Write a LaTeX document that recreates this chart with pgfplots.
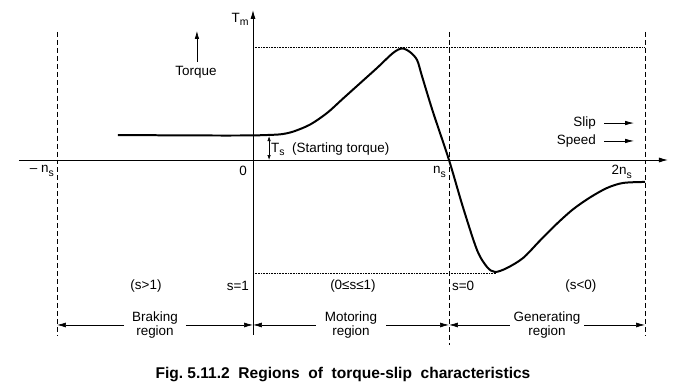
\documentclass[border=0pt]{standalone}
\usepackage{pgfplots}
\pgfplotsset{compat=1.18}
\usepackage{fontspec}
\setmainfont{Liberation Sans}
\usetikzlibrary{arrows.meta}
\newcommand\sub[1]{\raisebox{-0.5ex}{\fontsize{10.5}{11}\selectfont #1}}
\begin{document}
\begin{tikzpicture}[every node/.style={font=\fontsize{13.5}{15}\selectfont, inner sep=0pt}]
\useasboundingbox (0,0) rectangle (679bp,387bp);
\begin{axis}[at={(0,0)}, anchor=south west, scale only axis,
  width=679bp, height=387bp,
  xmin=-1.2908, xmax=2.1735, ymin=-2.0268, ymax=1.4286,
  hide axis, clip=false]
% axes
\draw[line width=0.8pt, -{Latex[length=9pt,width=5pt]}] (axis cs:-1.194,0) -- (axis cs:2.117,0);
\draw[line width=0.8pt, -{Latex[length=9pt,width=5pt]}] (axis cs:0,-1.5625) -- (axis cs:0,1.339);
% dashed region boundaries
\draw[line width=0.7pt, dash pattern=on 5pt off 3pt] (axis cs:-1,1.143) -- (axis cs:-1,-1.5625);
\draw[line width=0.7pt, dash pattern=on 5pt off 3pt] (axis cs:1,1.143) -- (axis cs:1,-1.652);
\draw[line width=0.7pt, dash pattern=on 5pt off 3pt] (axis cs:2,1.143) -- (axis cs:2,-1.5625);
% dotted levels
\draw[line width=0.6pt, dash pattern=on 0.8pt off 0.8pt] (axis cs:0,1.004) -- (axis cs:2,1.004);
\draw[line width=0.6pt, dash pattern=on 0.8pt off 0.8pt] (axis cs:0,-1.009) -- (axis cs:1.24,-1.009);
% torque-speed curve
\addplot[smooth, line width=2pt] coordinates {
(-0.689,0.223) (-0.270,0.219) (0,0.219) (0.036,0.221) (0.138,0.229)
(0.204,0.253) (0.291,0.316) (0.378,0.420) (0.459,0.548) (0.546,0.685)
(0.633,0.822) (0.714,0.955) (0.760,0.996) (0.801,0.964) (0.837,0.893)
(0.862,0.750) (0.918,0.430) (1.0,0) (1.071,-0.420) (1.143,-0.804)
(1.194,-0.955) (1.235,-1.0) (1.296,-0.964) (1.378,-0.875) (1.464,-0.720)
(1.551,-0.568) (1.633,-0.440) (1.719,-0.335) (1.806,-0.250) (1.888,-0.205)
(2.0,-0.196)};
% starting torque arrow
\draw[line width=0.7pt, {Latex[length=5pt,width=3.5pt]}-{Latex[length=5pt,width=3.5pt]}] (axis cs:0.082,0) -- (axis cs:0.082,0.214);
\node[anchor=west] at (axis cs:0.092,0.098) {T\sub{s}\ \ (Starting torque)};
% torque arrow
\draw[line width=0.7pt, -{Latex[length=8pt,width=4.5pt]}] (axis cs:-0.286,0.875) -- (axis cs:-0.286,1.152);
\node at (axis cs:-0.291,0.786) {Torque};
\node[anchor=east] at (axis cs:-0.022,1.255) {T\sub{m}};
% axis labels
\node[anchor=east] at (axis cs:-1.015,-0.098) {– n\sub{s}};
\node at (axis cs:-0.051,-0.098) {0};
\node[anchor=east] at (axis cs:0.985,-0.107) {n\sub{s}};
\node[anchor=east] at (axis cs:1.934,-0.107) {2n\sub{s}};
% slip / speed
\node[anchor=east] at (axis cs:1.750,0.330) {Slip};
\node[anchor=east] at (axis cs:1.750,0.170) {Speed};
\draw[line width=0.7pt, -{Latex[length=9pt,width=4.5pt]}] (axis cs:1.791,0.330) -- (axis cs:1.944,0.330);
\draw[line width=0.7pt, -{Latex[length=9pt,width=4.5pt]}] (axis cs:1.791,0.170) -- (axis cs:1.944,0.170);
% slip labels
\node at (axis cs:-0.546,-1.125) {(s>1)};
\node[anchor=east] at (axis cs:-0.020,-1.125) {s=1};
\node at (axis cs:0.510,-1.125) {(0≤s≤1)};
\node[anchor=west] at (axis cs:1.015,-1.125) {s=0};
\node at (axis cs:1.673,-1.125) {(s<0)};
% regions
\node[align=center] at (axis cs:-0.5,-1.473) {Braking\\[-1pt]region};
\node[align=center] at (axis cs:0.5,-1.473) {Motoring\\[-1pt]region};
\node[align=center] at (axis cs:1.5,-1.473) {Generating\\[-1pt]region};
\draw[line width=0.7pt, -{Latex[length=9pt,width=5pt]}] (axis cs:-0.658,-1.473) -- (axis cs:-1,-1.473);
\draw[line width=0.7pt, -{Latex[length=9pt,width=5pt]}] (axis cs:-0.342,-1.473) -- (axis cs:0,-1.473);
\draw[line width=0.7pt, -{Latex[length=9pt,width=5pt]}] (axis cs:0.321,-1.473) -- (axis cs:0,-1.473);
\draw[line width=0.7pt, -{Latex[length=9pt,width=5pt]}] (axis cs:0.679,-1.473) -- (axis cs:1,-1.473);
\draw[line width=0.7pt, -{Latex[length=9pt,width=5pt]}] (axis cs:1.311,-1.473) -- (axis cs:1,-1.473);
\draw[line width=0.7pt, -{Latex[length=9pt,width=5pt]}] (axis cs:1.689,-1.473) -- (axis cs:2,-1.473);
% caption
\node[font=\fontsize{15.6}{18}\selectfont\bfseries] at (axis cs:0.459,-1.911) {Fig.\ 5.11.2\ \ Regions\ \ of\ \ torque-slip\ \ characteristics};
\end{axis}
\end{tikzpicture}
\end{document}
